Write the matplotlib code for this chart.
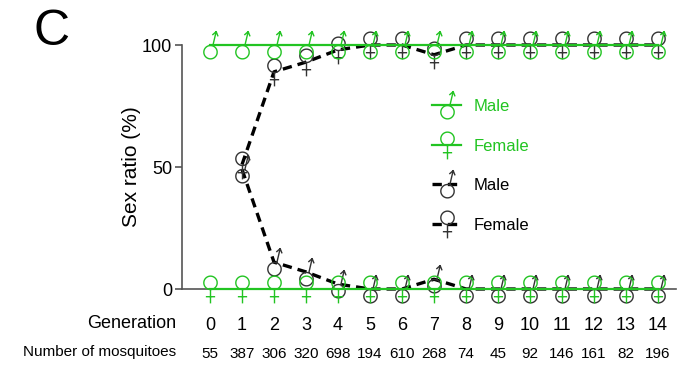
import matplotlib
matplotlib.use("Agg")
from matplotlib import pyplot as plt
from matplotlib.path import Path
import numpy as np

generations = list(range(15))
n_mosquitoes = [55, 387, 306, 320, 698, 194, 610, 268, 74, 45, 92, 146, 161, 82, 196]

# control (green): all male at 100 / all female at 0
ctrl_male = [100] * 15
ctrl_female = [0] * 15

# treated (black), starting at generation 1
treat_gen = list(range(1, 15))
treat_male = [49, 11, 7, 2, 0, 0, 4, 0, 0, 0, 0, 0, 0, 0]
treat_female = [51, 89, 93, 98, 100, 100, 96, 100, 100, 100, 100, 100, 100, 100]

green = "#22c422"
dark = "#333333"


def circle_part(cx, cy, r, n=40):
    t = np.linspace(0, 2 * np.pi, n + 1)
    verts = np.column_stack([cx + r * np.cos(t), cy + r * np.sin(t)])
    codes = [Path.MOVETO] + [Path.LINETO] * n
    return list(map(tuple, verts)), codes


def male_path():
    # circle below the centre, arrow pointing up and to the right
    v, c = circle_part(0, -6.5, 6.5)
    start = (6.5 * np.cos(np.radians(70)), -6.5 + 6.5 * np.sin(np.radians(70)))
    tip = np.array([5.5, 13.5])
    d = np.array(start) - tip
    d = d / np.hypot(*d)
    heads = []
    for a in (35, -35):
        ra = np.radians(a)
        rot = np.array([[np.cos(ra), -np.sin(ra)], [np.sin(ra), np.cos(ra)]])
        heads.append(tuple(tip + 5 * rot @ d))
    v += [start, tuple(tip), heads[0], tuple(tip), heads[1]]
    c += [Path.MOVETO, Path.LINETO, Path.LINETO, Path.MOVETO, Path.LINETO]
    return Path(v, c)


def female_path():
    # circle above the centre, cross below
    v, c = circle_part(0, 6.5, 6.5)
    v += [(0, 0), (0, -13.5), (-4.5, -7), (4.5, -7)]
    c += [Path.MOVETO, Path.LINETO, Path.MOVETO, Path.LINETO]
    return Path(v, c)


male_m = male_path()
female_m = female_path()

plt.rcParams['font.family'] = ['Liberation Sans', 'DejaVu Sans']
fig = plt.figure(figsize=(6.8, 3.66), dpi=100)
ax = fig.add_axes([182 / 680, 77 / 366, 494 / 680, 244 / 366])

ms = 20
dash = (0, (2.8, 1.8))
ax.plot(treat_gen, treat_male, color="black", lw=2.4, ls=dash, marker=male_m,
        ms=ms, mec=dark, mfc='none', mew=1.0, clip_on=False, zorder=3, label="Male")
ax.plot(treat_gen, treat_female, color="black", lw=2.4, ls=dash, marker=female_m,
        ms=ms, mec=dark, mfc='none', mew=1.0, clip_on=False, zorder=3, label="Female")
ax.plot(generations, ctrl_male, color=green, lw=1.6, marker=male_m, ms=ms,
        mec=green, mfc='none', mew=1.0, clip_on=False, zorder=4, label="Male")
ax.plot(generations, ctrl_female, color=green, lw=1.6, marker=female_m, ms=ms,
        mec=green, mfc='none', mew=1.0, clip_on=False, zorder=4, label="Female")

ax.set_xlim(-0.875, 14.56)
ax.set_ylim(0, 100)
ax.set_yticks([0, 50, 100])
ax.spines['top'].set_visible(False)
ax.spines['right'].set_visible(False)
for s in ['left', 'bottom']:
    ax.spines[s].set_color("#555555")
    ax.spines[s].set_linewidth(1.2)
ax.set_xticks([])
ax.tick_params(axis='y', length=5, width=1.2, color="#555555", labelsize=13, pad=2)
ax.set_ylabel("Sex ratio (%)", fontsize=15, labelpad=1)

# rows below the axis
for g, n in zip(generations, n_mosquitoes):
    ax.text(g, -15, str(g), ha='center', va='center', fontsize=13, clip_on=False)
    ax.text(g, -26.5, str(n), ha='center', va='center', fontsize=11, clip_on=False)
fig.text(176 / 680, 1 - 323 / 366, "Generation", ha='right', va='center', fontsize=13)
fig.text(176 / 680, 1 - 352 / 366, "Number of mosquitoes", ha='right', va='center', fontsize=11)

fig.text(33 / 680, 1 - 32 / 366, "C", ha='left', va='center', fontsize=36)

handles, labels = ax.get_legend_handles_labels()
order = [2, 3, 0, 1]
leg = ax.legend([handles[i] for i in order], [labels[i] for i in order],
                loc='upper left', bbox_to_anchor=(424 / 680, 1 - 91 / 366),
                bbox_transform=fig.transFigure, frameon=False, fontsize=12,
                handlelength=1.7, labelspacing=1.47, handletextpad=0.8, borderpad=0)
for t, c in zip(leg.get_texts(), [green, green, "black", "black"]):
    t.set_color(c)

fig.savefig("out.png", dpi=100)
